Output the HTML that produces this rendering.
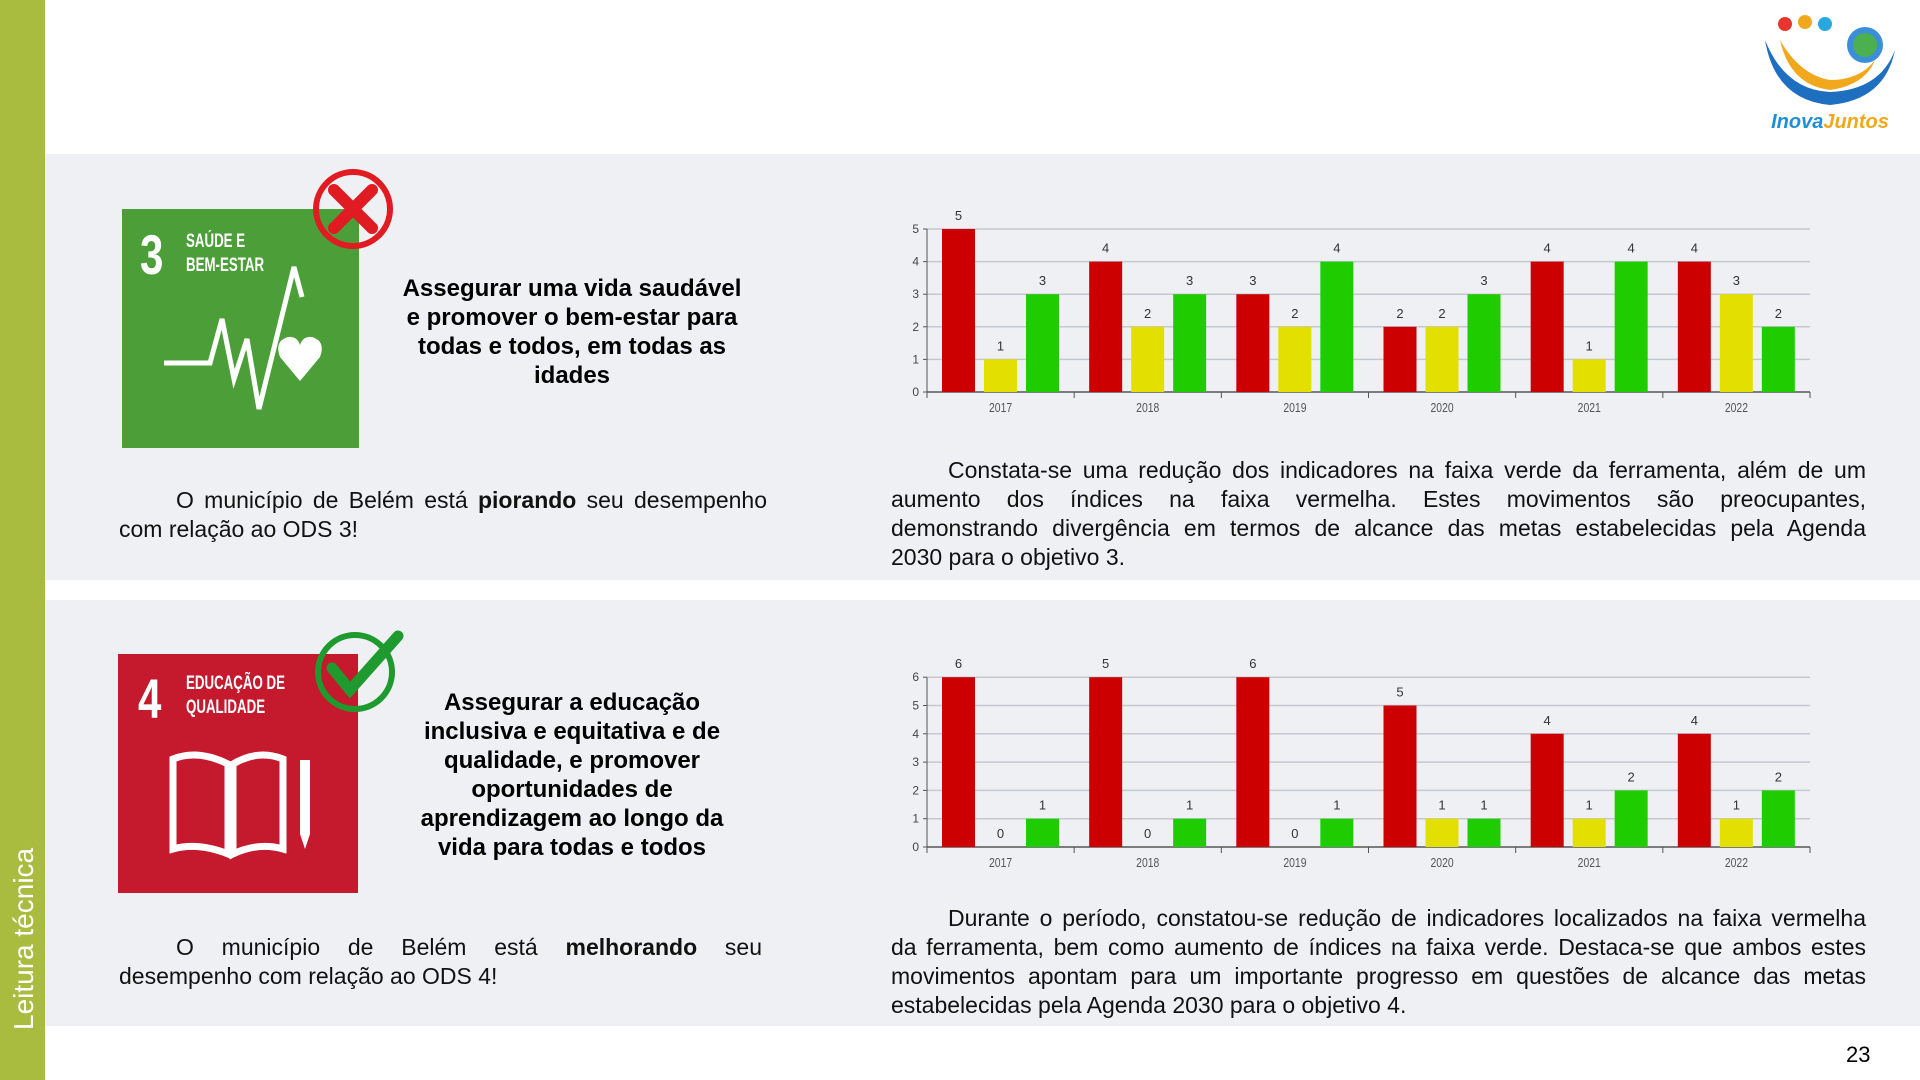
<!DOCTYPE html>
<html><head><meta charset="utf-8">
<style>
body{margin:0;width:1920px;height:1080px;position:relative;background:#fff;font-family:"Liberation Sans",sans-serif;overflow:hidden}
.abs{position:absolute}
.panel{position:absolute;left:45px;width:1875px;background:#eef0f4}
.head{position:absolute;text-align:center;font-weight:bold;font-size:24px;line-height:29px;color:#000}
.body{position:absolute;font-size:23px;line-height:29px;color:#111}
.body div{text-align:justify;text-align-last:justify;white-space:nowrap}
.body div.i{padding-left:57px}
.body div.l{text-align-last:left}
</style></head><body>
<div class="abs" style="left:0;top:0;width:45px;height:1080px;background:#a9bc3f"></div>
<div class="abs" style="left:8px;top:1030px;transform:rotate(-90deg);transform-origin:0 0;color:#fff;font-size:28px;white-space:nowrap">Leitura técnica</div>
<div class="panel" style="top:154px;height:426px"></div>
<div class="panel" style="top:600px;height:426px"></div>
<div class="abs" style="left:1846px;top:1042px;font-size:22px">23</div>

<!-- logo -->
<svg class="abs" style="left:1755px;top:10px" width="150" height="125">
<path d="M10 30 Q20 90 75 95 Q130 90 140 40 Q125 80 75 82 Q30 80 10 30Z" fill="#1f6fc0"/>
<path d="M25 30 Q35 75 75 80 Q110 75 120 50 Q105 70 75 70 Q45 65 25 30Z" fill="#f2a81d"/>
<circle cx="110" cy="35" r="18" fill="#3a8fd8"/><circle cx="110" cy="35" r="12" fill="#4caf50"/>
<circle cx="30" cy="14" r="7" fill="#e8352d"/><circle cx="50" cy="12" r="7" fill="#f2a81d"/><circle cx="70" cy="14" r="7" fill="#29a8e0"/>
<text x="75" y="118" text-anchor="middle" font-size="20" font-weight="bold" fill="#1f8fd6" font-style="italic">Inova<tspan fill="#f2a81d">Juntos</tspan></text>
</svg>

<!-- SDG3 -->
<div class="abs" style="left:122px;top:209px;width:237px;height:239px;background:#4c9f38"></div>
<div class="abs" style="left:140px;top:222px;color:#fff;font-size:56px;font-weight:bold;transform:scaleX(.75);transform-origin:0 0">3</div>
<div class="abs" style="left:186px;top:230px;color:#fff;font-size:19px;font-weight:bold;line-height:24px;transform:scaleX(.7);transform-origin:0 0">SAÚDE E<br>BEM-ESTAR</div>
<svg class="abs" style="left:122px;top:209px" width="237" height="239">
<polyline points="42,154 88,154 100,110 112,170 125,130 137,200 172,58 180,88" fill="none" stroke="#fff" stroke-width="5"/>
<path d="M178 172 L158 148 Q152 132 166 128 Q175 127 178 136 Q181 127 190 128 Q204 132 198 148Z" fill="#fff"/>
</svg>
<svg class="abs" style="left:312px;top:168px" width="84" height="84">
<circle cx="41" cy="41" r="37" fill="none" stroke="#e01b22" stroke-width="6"/>
<path d="M22 22 L60 60 M60 22 L22 60" stroke="#e01b22" stroke-width="12" stroke-linecap="round"/>
</svg>
<div class="head" style="left:372px;top:274px;width:400px">Assegurar uma vida saudável<br>e promover o bem-estar para<br>todas e todos, em todas as<br>idades</div>
<div class="body" style="left:119px;top:486px;width:648px">
<div class="i">O município de Belém está <b>piorando</b> seu desempenho</div>
<div class="l">com relação ao ODS 3!</div></div>
<div class="body" style="left:891px;top:456px;width:975px">
<div class="i">Constata-se uma redução dos indicadores na faixa verde da ferramenta, além de um</div>
<div>aumento dos índices na faixa vermelha. Estes movimentos são preocupantes,</div>
<div>demonstrando divergência em termos de alcance das metas estabelecidas pela Agenda</div>
<div class="l">2030 para o objetivo 3.</div></div>

<!-- SDG4 -->
<div class="abs" style="left:118px;top:654px;width:240px;height:239px;background:#c5192d"></div>
<div class="abs" style="left:138px;top:666px;color:#fff;font-size:56px;font-weight:bold;transform:scaleX(.75);transform-origin:0 0">4</div>
<div class="abs" style="left:186px;top:672px;color:#fff;font-size:19px;font-weight:bold;line-height:24px;transform:scaleX(.7);transform-origin:0 0">EDUCAÇÃO DE<br>QUALIDADE</div>
<svg class="abs" style="left:118px;top:654px" width="240" height="239">
<path d="M55 105 Q80 95 110 110 L110 200 Q80 188 55 195Z M165 105 Q140 95 115 110 L115 200 Q140 188 165 195Z" fill="none" stroke="#fff" stroke-width="7"/>
<path d="M182 106 L182 180 L187 195 L192 180 L192 106Z" fill="#fff"/>
</svg>
<svg class="abs" style="left:310px;top:628px" width="95" height="85">
<circle cx="45" cy="44" r="37" fill="none" stroke="#1e9a2f" stroke-width="6"/>
<path d="M22 40 L40 62 L88 8" fill="none" stroke="#1e9a2f" stroke-width="11" stroke-linecap="round"/>
</svg>
<div class="head" style="left:372px;top:688px;width:400px">Assegurar a educação<br>inclusiva e equitativa e de<br>qualidade, e promover<br>oportunidades de<br>aprendizagem ao longo da<br>vida para todas e todos</div>
<div class="body" style="left:119px;top:933px;width:643px">
<div class="i">O município de Belém está <b>melhorando</b> seu</div>
<div class="l">desempenho com relação ao ODS 4!</div></div>
<div class="body" style="left:891px;top:904px;width:975px">
<div class="i">Durante o período, constatou-se redução de indicadores localizados na faixa vermelha</div>
<div>da ferramenta, bem como aumento de índices na faixa verde. Destaca-se que ambos estes</div>
<div>movimentos apontam para um importante progresso em questões de alcance das metas</div>
<div class="l">estabelecidas pela Agenda 2030 para o objetivo 4.</div></div>

<svg id="c" class="abs" style="left:0;top:0" width="1920" height="1080"></svg>
<script>
function chart(base,unit,max,data,lab){
 var s='',x0=927,x1=1810,gw=(x1-x0)/6,cols=['#cc0000','#e3df00','#1ecc00'],yrs=[2017,2018,2019,2020,2021,2022];
 for(var v=0;v<=max;v++){var y=base-v*unit;
  if(v>0)s+='<line x1="'+x0+'" x2="'+x1+'" y1="'+y+'" y2="'+y+'" stroke="#c4c8cf" stroke-width="1.5"/>';
  s+='<line x1="'+(x0-4)+'" x2="'+x0+'" y1="'+y+'" y2="'+y+'" stroke="#555"/>';
  s+='<text x="'+(x0-8)+'" y="'+(y+4)+'" font-size="12" text-anchor="end" fill="#444">'+v+'</text>';}
 s+='<line x1="'+x0+'" x2="'+x0+'" y1="'+(base-max*unit)+'" y2="'+base+'" stroke="#555"/>';
 s+='<line x1="'+x0+'" x2="'+x1+'" y1="'+base+'" y2="'+base+'" stroke="#555" stroke-width="1.5"/>';
 for(var g=0;g<6;g++){var gx=x0+g*gw;
  s+='<line x1="'+gx+'" x2="'+gx+'" y1="'+base+'" y2="'+(base+6)+'" stroke="#555"/>';
  s+='<text x="'+(gx+gw/2)+'" y="'+(base+20)+'" font-size="13" text-anchor="middle" fill="#555" transform="translate('+(gx+gw/2)+',0) scale(.8,1) translate('+(-(gx+gw/2))+',0)">'+yrs[g]+'</text>';
  for(var k=0;k<3;k++){var v=data[k][g],bx=gx+15+k*42,h=v*unit;
   var t=(lab&&lab[k]&&lab[k][g]!=null)?lab[k][g]:v;
   s+='<rect x="'+bx+'" y="'+(base-h)+'" width="33" height="'+h+'" fill="'+cols[k]+'"/>';
   s+='<text x="'+(bx+16.5)+'" y="'+(base-h-9)+'" font-size="13" text-anchor="middle" fill="#333">'+t+'</text>';}}
 s+='<line x1="'+x1+'" x2="'+x1+'" y1="'+base+'" y2="'+(base+6)+'" stroke="#555"/>';
 return s;}
document.getElementById('c').innerHTML=
 chart(392,32.6,5,[[5,4,3,2,4,4],[1,2,2,2,1,3],[3,3,4,3,4,2]])+
 chart(847,28.3,6,[[6,6,6,5,4,4],[0,0,0,1,1,1],[1,1,1,1,2,2]],[[null,5]]);
</script>
</body></html>
